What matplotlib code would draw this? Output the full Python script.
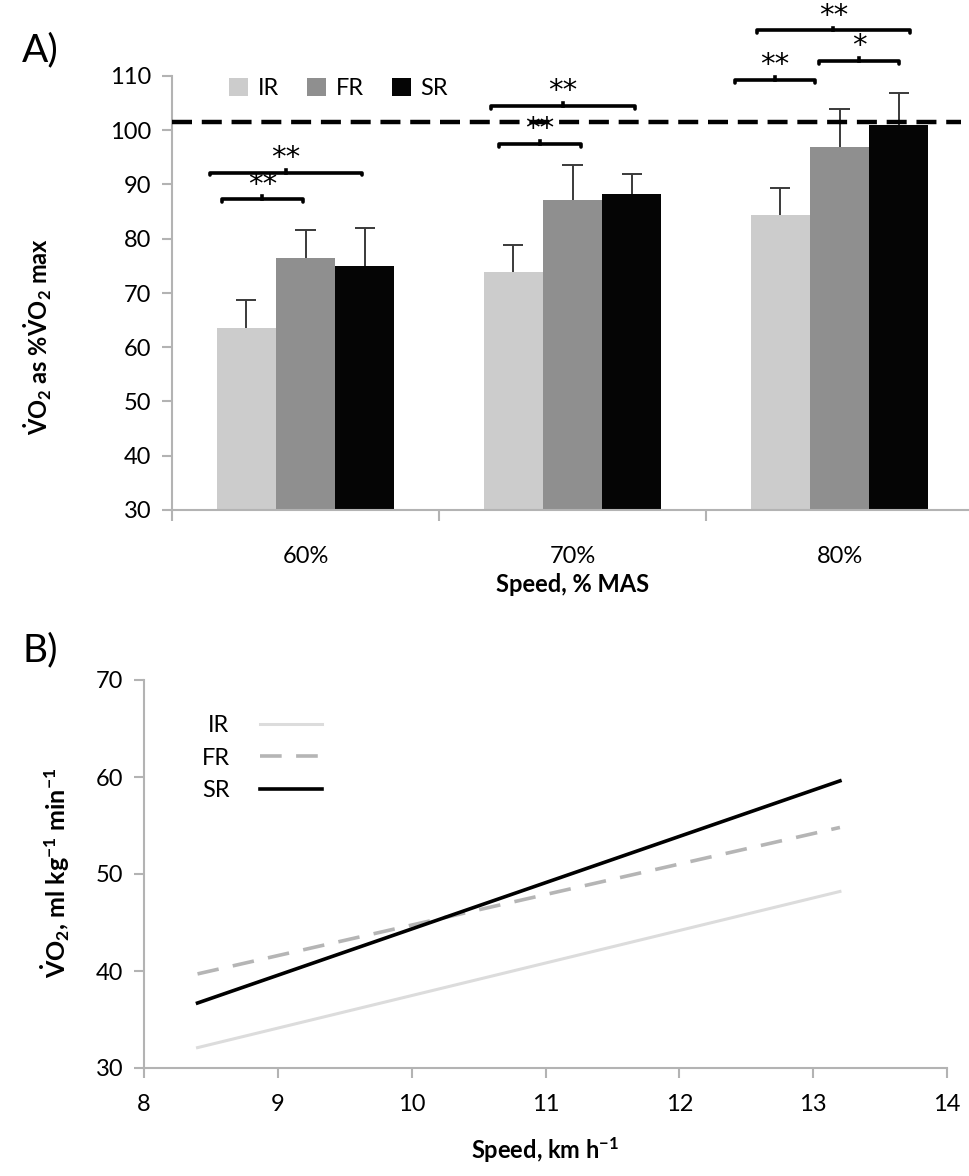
import numpy as np
import matplotlib
matplotlib.use("Agg")
import matplotlib.pyplot as plt

plt.rcParams['font.family'] = ['Lato', 'DejaVu Sans']
plt.rcParams['mathtext.fontset'] = 'custom'
plt.rcParams['mathtext.rm'] = 'Lato'
plt.rcParams['mathtext.bf'] = 'Lato:bold'
plt.rcParams['mathtext.it'] = 'Lato:italic'

# panel A data
speeds_pct = ['60%', '70%', '80%']
groups = ['IR', 'FR', 'SR']
ir_pct = [63.5, 73.8, 84.3]
fr_pct = [76.5, 87.2, 97.0]
sr_pct = [75.0, 88.2, 101.0]
ir_sd = [5.2, 5.0, 5.1]
fr_sd = [5.1, 6.4, 7.0]
sr_sd = [7.0, 3.8, 5.8]
vo2max_line = 101.6

# significance brackets: (x start, x end, y, stars)
brackets = [
    (-0.313, -0.011, 87.3, '**'),
    (-0.358, 0.213, 92.2, '**'),
    (0.724, 1.030, 97.5, '**'),
    (0.694, 1.235, 104.5, '**'),
    (1.608, 1.910, 109.3, '**'),
    (1.922, 2.224, 112.8, '*'),
    (1.690, 2.265, 118.4, '**'),
]

# panel B data
speed_kmh = [8.4, 13.2]
ir_vo2 = [32.1, 48.2]
fr_vo2 = [39.7, 54.8]
sr_vo2 = [36.7, 59.6]

W, H = 969, 1176
fig = plt.figure(figsize=(W / 100, H / 100), dpi=100)
spine_col = '#b3b3b3'
fs = 17

# ---------- panel A ----------
ax1 = fig.add_axes([172 / W, 1 - 510 / H, 801 / W, 434 / H])
x = np.arange(len(speeds_pct))
bw = 0.222
cols = ['#cccccc', '#8f8f8f', '#050505']
for i, (vals, sd, c, lab) in enumerate(zip([ir_pct, fr_pct, sr_pct],
                                            [ir_sd, fr_sd, sr_sd], cols, groups)):
    xs = x + (i - 1) * bw
    vals = np.array(vals)
    top = vals + np.array(sd)
    ax1.bar(xs, vals, bw, color=c, label=lab, zorder=2)
    # upper error bar only
    ax1.vlines(xs, vals, top, color='#3a3a3a', lw=1.4, zorder=3)
    ax1.hlines(top, xs - 0.038, xs + 0.038, color='#3a3a3a', lw=1.4, zorder=3)

ax1.axhline(vo2max_line, xmin=0, xmax=0.985, color='black', lw=3.2,
            dashes=(4.5, 2.2), zorder=4)

for x0, x1, y, s in brackets:
    xm = (x0 + x1) / 2
    ax1.plot([x0, x0, x1, x1], [y - 0.5, y, y, y - 0.5], color='black', lw=2.6,
             solid_capstyle='round', clip_on=False, zorder=5)
    ax1.plot([xm, xm], [y, y + 0.5], color='black', lw=2.6, clip_on=False, zorder=5)
    ax1.text(xm, y + 0.1, s, ha='center', va='bottom', fontsize=21,
             family='DejaVu Sans', clip_on=False)

ax1.set_xlim(-0.5, 2.5)
ax1.set_ylim(30, 110)
ax1.set_yticks(range(30, 111, 10))
ax1.set_xticks(x)
ax1.set_xticklabels(speeds_pct, fontsize=fs)
ax1.set_xticks([-0.5, 0.5, 1.5, 2.5], minor=True)
ax1.tick_params(axis='x', which='major', length=0, pad=26)
ax1.tick_params(axis='x', which='minor', length=8, width=1.5, color=spine_col, direction='out')
ax1.tick_params(axis='y', labelsize=fs, length=7, width=1.5, color=spine_col, pad=8)
for s in ['top', 'right']:
    ax1.spines[s].set_visible(False)
for s in ['left', 'bottom']:
    ax1.spines[s].set_color(spine_col)
    ax1.spines[s].set_linewidth(1.5)
ax1.set_xlabel('Speed, % MAS', fontsize=fs, fontweight='bold', labelpad=4)
ax1.legend(loc='upper left', bbox_to_anchor=(0.045, 1.045), ncol=3, frameon=False,
           fontsize=fs, handlelength=0.8, handleheight=0.8, handletextpad=0.4,
           columnspacing=1.2)
fig.text(38 / W, 1 - 336 / H,
         r'$\mathbf{\dot{V}O_2}$ as %$\mathbf{\dot{V}O_2}$ max',
         rotation=90, ha='center', va='center', fontsize=fs, fontweight='bold')
fig.text(22 / W, 1 - 50 / H, 'A)', fontsize=28, ha='left', va='center')

# ---------- panel B ----------
ax2 = fig.add_axes([144 / W, 1 - 1068 / H, 803 / W, 388 / H])
ax2.plot(speed_kmh, ir_vo2, color='#dcdcdc', lw=2.2, label='IR')
ax2.plot(speed_kmh, fr_vo2, color='#b5b5b5', lw=2.6, dashes=(6, 4), label='FR')
ax2.plot(speed_kmh, sr_vo2, color='black', lw=2.6, label='SR')
ax2.set_xlim(8, 14)
ax2.set_ylim(30, 70)
ax2.set_xticks(range(8, 15))
ax2.set_yticks(range(30, 71, 10))
ax2.tick_params(axis='both', labelsize=fs, length=7, width=1.5, color=spine_col)
ax2.tick_params(axis='x', pad=12)
ax2.tick_params(axis='y', pad=8)
for s in ['top', 'right']:
    ax2.spines[s].set_visible(False)
for s in ['left', 'bottom']:
    ax2.spines[s].set_color(spine_col)
    ax2.spines[s].set_linewidth(1.5)
ax2.set_xlabel(r'Speed, km h$^{\mathbf{-1}}$', fontsize=fs, fontweight='bold', labelpad=14)
ax2.legend(loc='upper left', bbox_to_anchor=(0.045, 0.965), frameon=False, fontsize=fs,
           markerfirst=False, handlelength=2.6, handletextpad=1.3, labelspacing=0.5)
fig.text(55 / W, 1 - 873 / H,
         r'$\mathbf{\dot{V}O_2}$, ml kg$^{\mathbf{-1}}$ min$^{\mathbf{-1}}$',
         rotation=90, ha='center', va='center', fontsize=fs + 1, fontweight='bold')
fig.text(22 / W, 1 - 650 / H, 'B)', fontsize=28, ha='left', va='center')

fig.savefig('out.png', dpi=100)
